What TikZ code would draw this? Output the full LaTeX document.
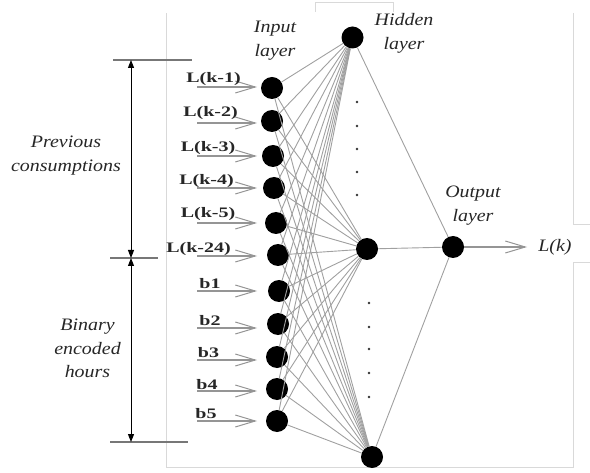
\documentclass[tikz,border=0pt]{standalone}
\usepackage{fontspec}
\setmainfont{Liberation Serif}
\newfontfamily\itlab[FakeStretch=1.14]{Liberation Serif}
\newfontfamily\bdlab[FakeStretch=1.38]{Liberation Serif}
\usetikzlibrary{arrows.meta}
\definecolor{framegray}{HTML}{D9D9D9}
\definecolor{conngray}{HTML}{A0A0A0}
\definecolor{arrgray}{HTML}{959595}
\definecolor{dimgray}{HTML}{777777}
\begin{document}
\begin{tikzpicture}[x=1bp,y=-1bp,
  neuron/.style={circle,fill=black,inner sep=0pt,minimum size=22bp},
  conn/.style={draw=conngray,line width=0.9bp},
  inarrow/.style={draw=arrgray,line width=1.3bp,-{Straight Barb[length=20bp,width=12bp,line width=1bp]}},
  itlabel/.style={font=\itlab\itshape\fontsize{17.5bp}{23.5bp}\selectfont,align=center,inner sep=0pt,text=black!85},
  bdlabel/.style={font=\bdlab\bfseries\fontsize{14.5bp}{17bp}\selectfont,inner sep=0pt,anchor=base,text=black!85},
  dimline/.style={draw=dimgray,line width=2bp},
  dimarrow/.style={draw=black,line width=1bp,{Triangle[length=8bp,width=6bp]}-{Triangle[length=8bp,width=6bp]}},
  framel/.style={draw=framegray,line width=1bp},
  dotm/.style={circle,fill=black!80,inner sep=0pt,minimum size=2.6bp}
]
\useasboundingbox (0,0) rectangle (590,473);

% faint frame lines
\draw[framel] (315,12) -- (315,3) -- (393,3) -- (393,12);
\draw[framel] (573,13) -- (573,225) -- (590,225);
\draw[framel] (590,263) -- (573,263) -- (573,467) -- (166,467) -- (166,13);

% hidden and output neurons
\node[neuron] (h1) at (352.5,37.5) {};
\node[neuron] (h2) at (367,249) {};
\node[neuron] (h3) at (372,457) {};
\node[neuron] (o) at (453,247) {};

% input neurons, arrows and labels
\foreach \i/\x/\y/\ay/\lx/\by/\t in {
  1/272/88/87/213.5/83/L(k-1),
  2/272/121/123/210.5/117/L(k-2),
  3/273/156/156/208/152/L(k-3),
  4/274/188/188/206.5/185/L(k-4),
  5/276/223/223/208/218/L(k-5),
  6/278/255/256/198.5/253/L(k-24),
  7/279/291/291/210/289/b1,
  8/278/324/328/210/325/b2,
  9/277/357/360/208.5/357/b3,
  10/277/389/391/207/389/b4,
  11/277/421/421/206/418/b5}{
  \node[neuron] (i\i) at (\x,\y) {};
  \coordinate (s\i) at (197,\ay);
  \coordinate (e\i) at (257,\ay);
  \draw[inarrow] (s\i) -- (e\i);
  \node[bdlabel] (t\i) at (\lx,\by) {\t};
}

% connections
\foreach \i in {1,...,11}{
  \foreach \h in {1,2,3}{
    \draw[conn] (i\i) -- (h\h);
  }
}
\foreach \h in {1,2,3}{
  \draw[conn] (h\h) -- (o);
}

% output arrow
\coordinate (oe) at (527,247);
\draw[inarrow] (o) -- (oe);
\node[itlabel] (lk) at (555,247) {L(k)};

% dots in hidden layer
\foreach \yy in {102,126,149,172,195}{
  \node[dotm] at (357,\yy) {};
}
\foreach \yy in {303,327,349,373,397}{
  \node[dotm] at (369,\yy) {};
}

% layer labels
\node[itlabel] (inl) at (275,40.5) {Input\\layer};
\node[itlabel] (hil) at (404,33.5) {Hidden\\layer};
\node[itlabel] (oul) at (473,205.5) {Output\\layer};

% dimension lines
\coordinate (d1a) at (113,60); \coordinate (d1b) at (192,60);
\coordinate (d2a) at (110,258); \coordinate (d2b) at (158,258);
\coordinate (d3a) at (110,442); \coordinate (d3b) at (188,442);
\draw[dimline] (d1a) -- (d1b);
\draw[dimline] (d2a) -- (d2b);
\draw[dimline] (d3a) -- (d3b);
\coordinate (v1) at (131,60);
\coordinate (v2) at (131,258);
\coordinate (v3) at (131,442);
\draw[dimarrow] (v1) -- (v2);
\draw[dimarrow] (v2) -- (v3);

\node[itlabel] (prev) at (66,155.5) {Previous\\consumptions};
\node[itlabel] (bin) at (87.5,348.5) {Binary\\encoded\\hours};
\end{tikzpicture}
\end{document}
